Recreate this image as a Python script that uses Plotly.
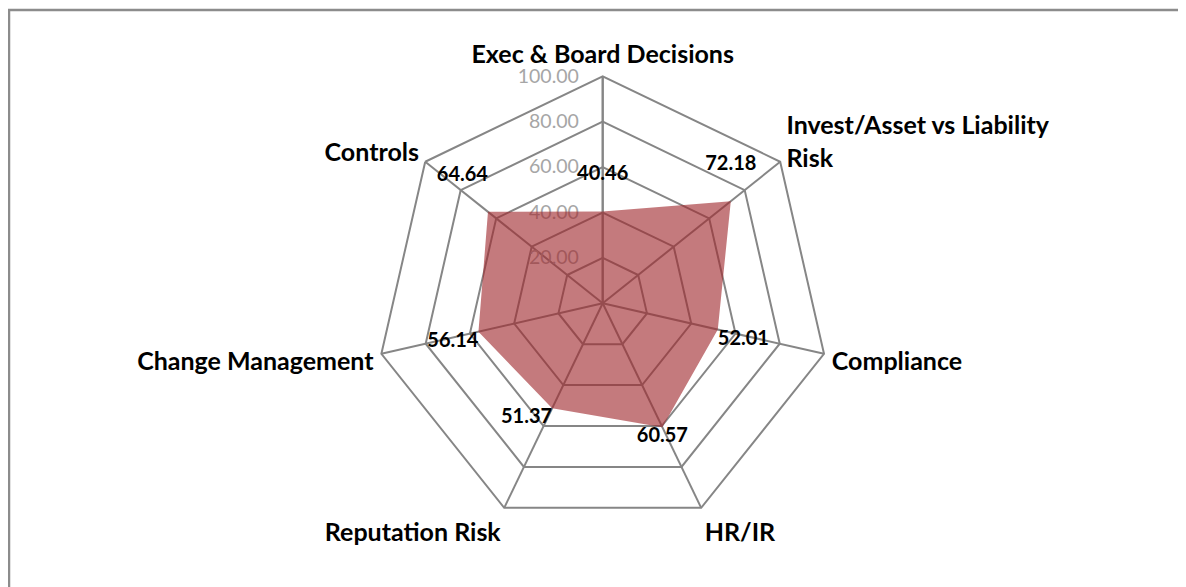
import plotly.graph_objects as go

categories = ["Exec & Board Decisions", "Invest/Asset vs Liability<br>Risk", "Compliance",
              "HR/IR", "Reputation Risk", "Change Management", "Controls"]
values = [40.46, 72.18, 52.01, 60.57, 51.37, 56.14, 64.64]
radial_ticks = [20, 40, 60, 80, 100]
label_positions = ["top center", "top center", "bottom right", "bottom center",
                   "bottom left", "bottom left", "top left"]
label_pad_lines = [1, 1, 0, 0, 0, 0, 1]

W, H = 1186, 587
OFF = 8  # page body margin
cx, cy, R = 602.7 - OFF, 303.3 - OFF, 227

label_text = [f"{v:.2f}" + "<br> " * n for v, n in zip(values, label_pad_lines)]

fig = go.Figure()
fig.add_trace(go.Scatterpolar(
    r=values + values[:1], theta=categories + categories[:1],
    mode="lines", fill="toself",
    fillcolor="rgba(160,40,45,0.62)", line=dict(width=0, color="rgba(0,0,0,0)"),
    hoverinfo="skip", showlegend=False,
))
fig.add_trace(go.Scatterpolar(
    r=values, theta=categories, mode="text",
    text=label_text, textposition=label_positions,
    textfont=dict(family="Lato", size=20, color="black", weight="bold"),
    hoverinfo="skip", showlegend=False,
))

grid = "#868686"
fig.update_layout(
    width=W, height=H,
    margin=dict(l=0, r=0, t=0, b=0),
    paper_bgcolor="white", plot_bgcolor="white",
    showlegend=False,
    polar=dict(
        domain=dict(x=[(cx - R) / W, (cx + R) / W], y=[(H - cy - R) / H, (H - cy + R) / H]),
        bgcolor="rgba(0,0,0,0)",
        gridshape="linear",
        angularaxis=dict(
            direction="clockwise", rotation=90, type="category",
            categoryorder="array", categoryarray=categories,
            showline=True, linecolor=grid, linewidth=2,
            gridcolor=grid, gridwidth=2,
            ticks="outside", ticklen=2, tickcolor="rgba(0,0,0,0)",
            tickfont=dict(family="Lato", size=25, color="black", weight="bold"),
            layer="below traces",
        ),
        radialaxis=dict(
            range=[0, 100], angle=90, side="counterclockwise",
            tickvals=radial_ticks, tickformat=".2f", tickangle=90,
            showline=True, linecolor=grid, linewidth=2,
            gridcolor=grid, gridwidth=2,
            ticks="outside", ticklen=16, tickcolor="rgba(0,0,0,0)",
            tickfont=dict(family="Lato", size=19.5, color="#a6a6a6"),
            layer="below traces",
        ),
    ),
    shapes=[dict(type="rect", xref="paper", yref="paper",
                 x0=1 / W, x1=1.05, y0=-0.05, y1=1 - 2 / H,
                 line=dict(color="#8c8c8c", width=2.5), fillcolor="rgba(0,0,0,0)")],
)

fig.write_html("out.html")
